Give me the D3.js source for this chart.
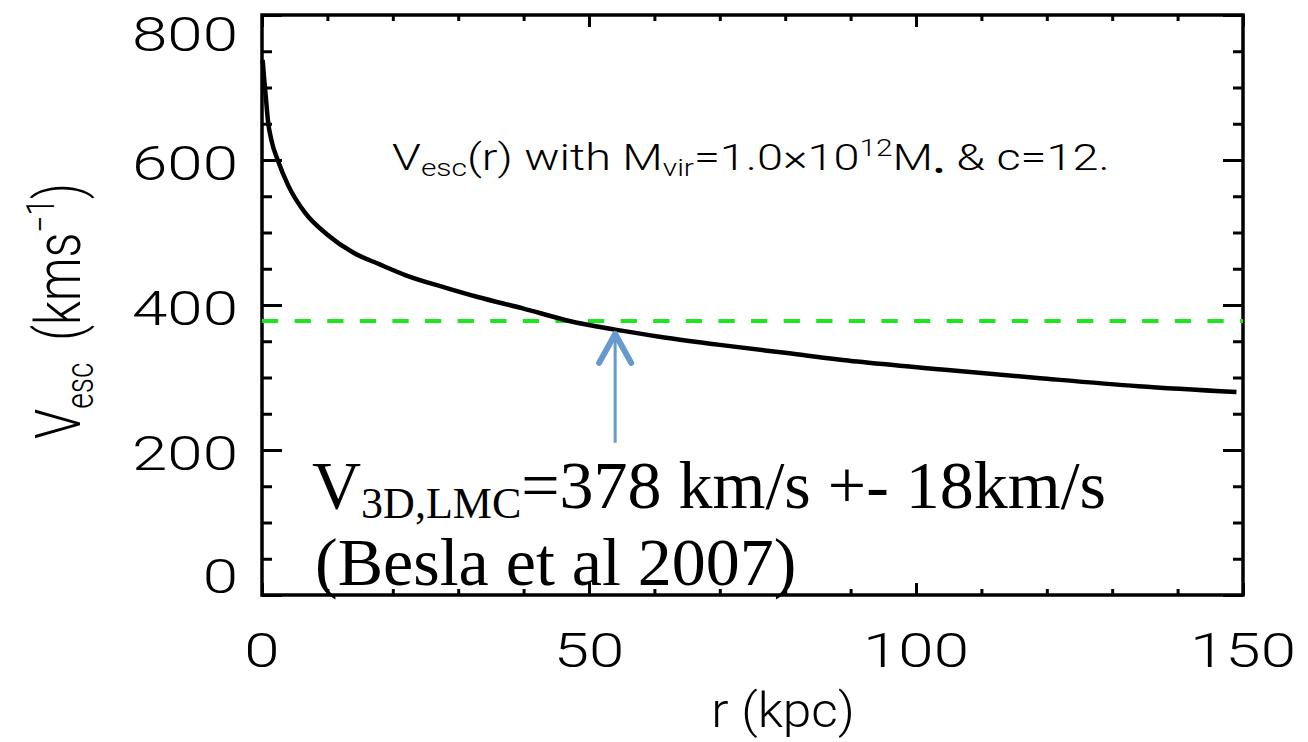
<!DOCTYPE html>
<html>
<head>
<meta charset="utf-8">
<script src="https://cdn.jsdelivr.net/npm/d3@7"></script>
<style>
  html, body { margin: 0; padding: 0; background: #fff; }
  svg { display: block; }
  .idl { font-family: Roboto, "DejaVu Sans", sans-serif; font-weight: 300; fill: #000; }
  .ser { font-family: "Liberation Serif", "DejaVu Serif", serif; fill: #000; }
</style>
</head>
<body>
<svg id="chart" width="1308" height="742"></svg>
<script>
// ---- data ----
const rKpc = [0.1, 0.3, 0.6, 0.9, 1.5, 2.4, 4, 6.6, 10, 14, 18, 22, 28, 33, 40, 47, 54, 61, 70, 80, 91, 104, 119, 134, 149];
const vEsc = [738, 715, 685, 655, 625, 600, 565, 527, 497, 472, 456, 441, 424, 411, 395, 378, 366, 356, 345, 334, 322, 311, 299, 288, 280];
const xTicks = [0, 50, 100, 150];
const yTicks = [0, 200, 400, 600, 800];
const xMinorTicks = d3.range(0, 151, 10);
const yMinorTicks = d3.range(0, 801, 50);
const vLMC = 378;
const arrowR = 54, arrowVFrom = 210, arrowVTo = 363;

const svg = d3.select("#chart");
const L = 262, R = 1243, T = 15, B = 595;
const SX = 1.3; // horizontal stretch of the IDL lettering

const x = d3.scaleLinear().domain([0, 150]).range([L, R]);
const y = d3.scaleLinear().domain([0, 800]).range([B, T]);

// ticks (inward) on all four sides
function tickStyle(g) {
  g.select(".domain").remove();
  g.selectAll("line").attr("stroke", "#000").attr("stroke-width", 3);
  g.selectAll("text").remove();
}
svg.append("g").attr("transform", `translate(${L},0)`)
  .call(d3.axisLeft(y).tickValues(yMinorTicks).tickSize(-10)).call(tickStyle);
svg.append("g").attr("transform", `translate(${L},0)`)
  .call(d3.axisLeft(y).tickValues(yTicks).tickSize(-20)).call(tickStyle);
svg.append("g").attr("transform", `translate(${R},0)`)
  .call(d3.axisRight(y).tickValues(yMinorTicks).tickSize(-10)).call(tickStyle);
svg.append("g").attr("transform", `translate(${R},0)`)
  .call(d3.axisRight(y).tickValues(yTicks).tickSize(-20)).call(tickStyle);
svg.append("g").attr("transform", `translate(0,${B})`)
  .call(d3.axisBottom(x).tickValues(xMinorTicks).tickSize(-6)).call(tickStyle);
svg.append("g").attr("transform", `translate(0,${B})`)
  .call(d3.axisBottom(x).tickValues(xTicks).tickSize(-12)).call(tickStyle);
svg.append("g").attr("transform", `translate(0,${T})`)
  .call(d3.axisTop(x).tickValues(xMinorTicks).tickSize(-6)).call(tickStyle);
svg.append("g").attr("transform", `translate(0,${T})`)
  .call(d3.axisTop(x).tickValues(xTicks).tickSize(-12)).call(tickStyle);

// frame
svg.append("rect").attr("x", L).attr("y", T).attr("width", R - L).attr("height", B - T)
  .attr("fill", "none").attr("stroke", "#000").attr("stroke-width", 3.5);

// tick labels
yTicks.forEach(v => {
  const cy = Math.min(Math.max(y(v) + 2.5, 33), 575);
  svg.append("text").attr("class", "idl")
    .attr("transform", `translate(238,${cy + 17.5}) scale(${SX},1)`)
    .attr("text-anchor", "end").attr("font-size", 49).text(v);
});
xTicks.forEach(v => {
  svg.append("text").attr("class", "idl")
    .attr("transform", `translate(${x(v)},667) scale(${SX},1)`)
    .attr("text-anchor", "middle").attr("font-size", 49).text(v);
});

// axis titles
svg.append("text").attr("class", "idl")
  .attr("transform", `translate(783,727) scale(1.05,1)`)
  .attr("text-anchor", "middle").attr("font-size", 49).text("r (kpc)");

const yt = svg.append("text").attr("class", "idl")
  .attr("transform", `translate(80,311) scale(${SX},1) rotate(-90)`)
  .attr("text-anchor", "middle").attr("font-size", 49);
yt.append("tspan").text("V");
yt.append("tspan").attr("font-size", 30).attr("dy", 10).text("esc");
yt.append("tspan").attr("dy", -10).text("\u2009 (kms");
yt.append("tspan").attr("font-size", 30).attr("dy", -20).text("\u22121");
yt.append("tspan").attr("dy", 20).text(")");

// green dashed LMC velocity line
svg.append("line")
  .attr("x1", x(0)).attr("x2", x(150)).attr("y1", y(vLMC)).attr("y2", y(vLMC))
  .attr("stroke", "#1ee61e").attr("stroke-width", 4).attr("stroke-dasharray", "16.3,16.3");

// escape velocity curve
const pts = rKpc.map((r, i) => [r, vEsc[i]]);
svg.append("path").datum(pts)
  .attr("d", d3.line().x(d => x(d[0])).y(d => y(d[1])).curve(d3.curveMonotoneX))
  .attr("fill", "none").attr("stroke", "#000").attr("stroke-width", 4.5)
  .attr("stroke-linejoin", "round");

// in-plot label
const lab = svg.append("text").attr("class", "idl")
  .attr("transform", `translate(392,170) scale(${SX},1)`)
  .attr("font-size", 36).attr("font-weight", 400);
lab.append("tspan").text("V");
lab.append("tspan").attr("font-size", 23).attr("dy", 6).text("esc");
lab.append("tspan").attr("dy", -6).text("(r) with M");
lab.append("tspan").attr("font-size", 23).attr("dy", 6).text("vir");
lab.append("tspan").attr("dy", -6).text("=1.0\u00d710");
lab.append("tspan").attr("font-size", 23).attr("dy", -14).text("12");
lab.append("tspan").attr("dy", 14).text("M");
lab.append("tspan").attr("font-size", 28).attr("dy", 10).text("\u2022");
lab.append("tspan").attr("dy", -10).text(" & c=12.");

// blue arrow
const ax = x(arrowR), ayTip = y(arrowVTo), ayBase = y(arrowVFrom);
svg.append("line").attr("x1", ax).attr("x2", ax).attr("y1", ayBase).attr("y2", ayTip + 3)
  .attr("stroke", "#6699cc").attr("stroke-width", 3);
svg.append("path")
  .attr("d", `M${ax - 16},${ayTip + 31} L${ax},${ayTip + 2} L${ax + 16},${ayTip + 31}`)
  .attr("fill", "none").attr("stroke", "#6699cc").attr("stroke-width", 6)
  .attr("stroke-linecap", "round").attr("stroke-linejoin", "round");

// annotation
const a1 = svg.append("text").attr("class", "ser").attr("x", 312).attr("y", 508).attr("font-size", 68);
a1.append("tspan").text("V");
a1.append("tspan").attr("font-size", 44).attr("dy", 10).text("3D,LMC");
a1.append("tspan").attr("dy", -10).text("=378 km/s +- 18km/s");
svg.append("text").attr("class", "ser").attr("x", 315).attr("y", 585).attr("font-size", 68)
  .text("(Besla et al 2007)");
</script>
</body>
</html>
